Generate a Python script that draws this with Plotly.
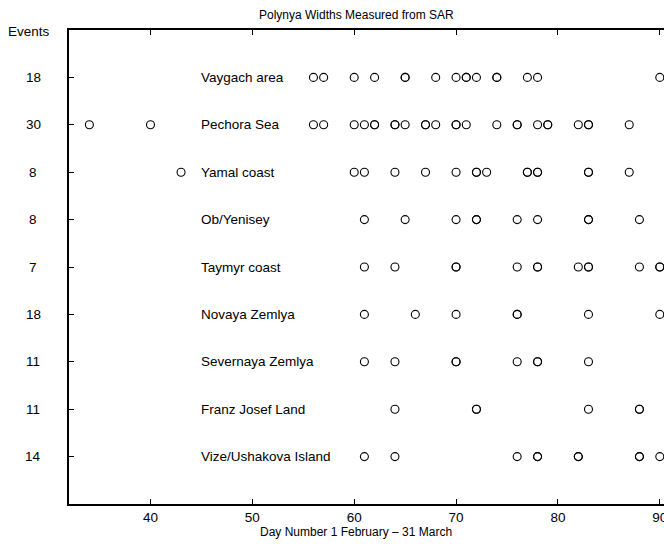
import plotly.graph_objects as go

regions = ["Vaygach area", "Pechora Sea", "Yamal coast", "Ob/Yenisey", "Taymyr coast",
           "Novaya Zemlya", "Severnaya Zemlya", "Franz Josef Land", "Vize/Ushakova Island"]
events = [18, 30, 8, 8, 7, 18, 11, 11, 14]

days_vaygach = [56, 57, 60, 62, 65, 65, 68, 70, 71, 71, 72, 74, 74, 77, 78, 90]
days_pechora = [34, 40, 56, 57, 60, 61, 62, 62, 64, 64, 65, 67, 67, 68, 70, 70, 71, 74,
                76, 76, 78, 79, 79, 82, 83, 83, 87, 90.7]
days_yamal = [43, 60, 61, 64, 67, 70, 72, 72, 73, 77, 77, 78, 78, 83, 83, 87, 90.7]
days_ob = [61, 65, 70, 72, 72, 76, 78, 83, 83, 88, 90.7]
days_taymyr = [61, 64, 70, 70, 76, 78, 78, 82, 83, 83, 88, 90, 90]
days_novaya = [61, 66, 70, 76, 76, 83, 90]
days_severnaya = [61, 64, 70, 70, 76, 78, 78, 83, 90.7]
days_franz = [64, 72, 72, 83, 88, 88, 90.7]
days_vize = [61, 64, 76, 78, 78, 82, 82, 88, 88, 90]

all_days = [days_vaygach, days_pechora, days_yamal, days_ob, days_taymyr,
            days_novaya, days_severnaya, days_franz, days_vize]

x_ticks = [40, 50, 60, 70, 80, 90]

FONT = "Liberation Sans, Arial, sans-serif"
W, H = 664, 544
ML, MR, MT, MB = 69, 0, 30, 40
PW = W - ML - MR
PH = H - MT - MB

n = len(regions)
fig = go.Figure()
for i, (name, days) in enumerate(zip(regions, all_days)):
    yv = n - i
    fig.add_trace(go.Scatter(
        x=days, y=[yv] * len(days), mode="markers",
        marker=dict(symbol="circle-open", size=8, color="black", line=dict(width=1.1, color="black")),
        cliponaxis=False, showlegend=False, hoverinfo="x"))
    fig.add_annotation(x=44.8, y=yv, xref="x", yref="y", text=name, showarrow=False,
                       xanchor="left", yanchor="middle",
                       font=dict(family=FONT, size=13.5, color="black"))
    fig.add_annotation(x=(33 - ML) / PW, y=yv, xref="paper", yref="y", text=str(events[i]),
                       showarrow=False, xanchor="center", yanchor="middle",
                       font=dict(family=FONT, size=13.5, color="black"))

fig.add_annotation(x=(29 - ML) / PW, y=(H - MB - 32) / PH, xref="paper", yref="paper",
                   text="Events", showarrow=False, xanchor="center", yanchor="middle",
                   font=dict(family=FONT, size=13.5, color="black"))
fig.add_annotation(x=(356 - ML) / PW, y=(H - MB - 15) / PH, xref="paper", yref="paper",
                   text="Polynya Widths Measured from SAR", showarrow=False,
                   xanchor="center", yanchor="middle",
                   font=dict(family=FONT, size=12, color="black"))
fig.add_annotation(x=(356 - ML) / PW, y=(H - MB - 532) / PH, xref="paper", yref="paper",
                   text="Day Number 1 February \u2013 31 March", showarrow=False,
                   xanchor="center", yanchor="middle",
                   font=dict(family=FONT, size=12, color="black"))

fig.update_layout(
    width=W, height=H,
    margin=dict(l=ML, r=MR, t=MT, b=MB, pad=0, autoexpand=False),
    plot_bgcolor="white", paper_bgcolor="white",
    font=dict(family=FONT, size=13.5, color="black"),
    xaxis=dict(range=[32, 32 + PW / 10.186], tickvals=x_ticks, ticktext=[str(v) for v in x_ticks],
               ticks="inside", ticklen=5, tickwidth=1, tickcolor="black",
               showline=True, linecolor="black", linewidth=1.5, mirror="ticks",
               showgrid=False, zeroline=False, tickfont=dict(size=13.5),
               ticklabeloverflow="allow", automargin=False),
    yaxis=dict(range=[0, n + 1], tickvals=list(range(1, n + 1)), ticktext=[""] * n,
               ticks="inside", ticklen=5, tickwidth=1, tickcolor="black",
               showline=True, linecolor="black", linewidth=1.5, mirror=False,
               showgrid=False, zeroline=False, automargin=False),
)

fig.write_html("out.html")
